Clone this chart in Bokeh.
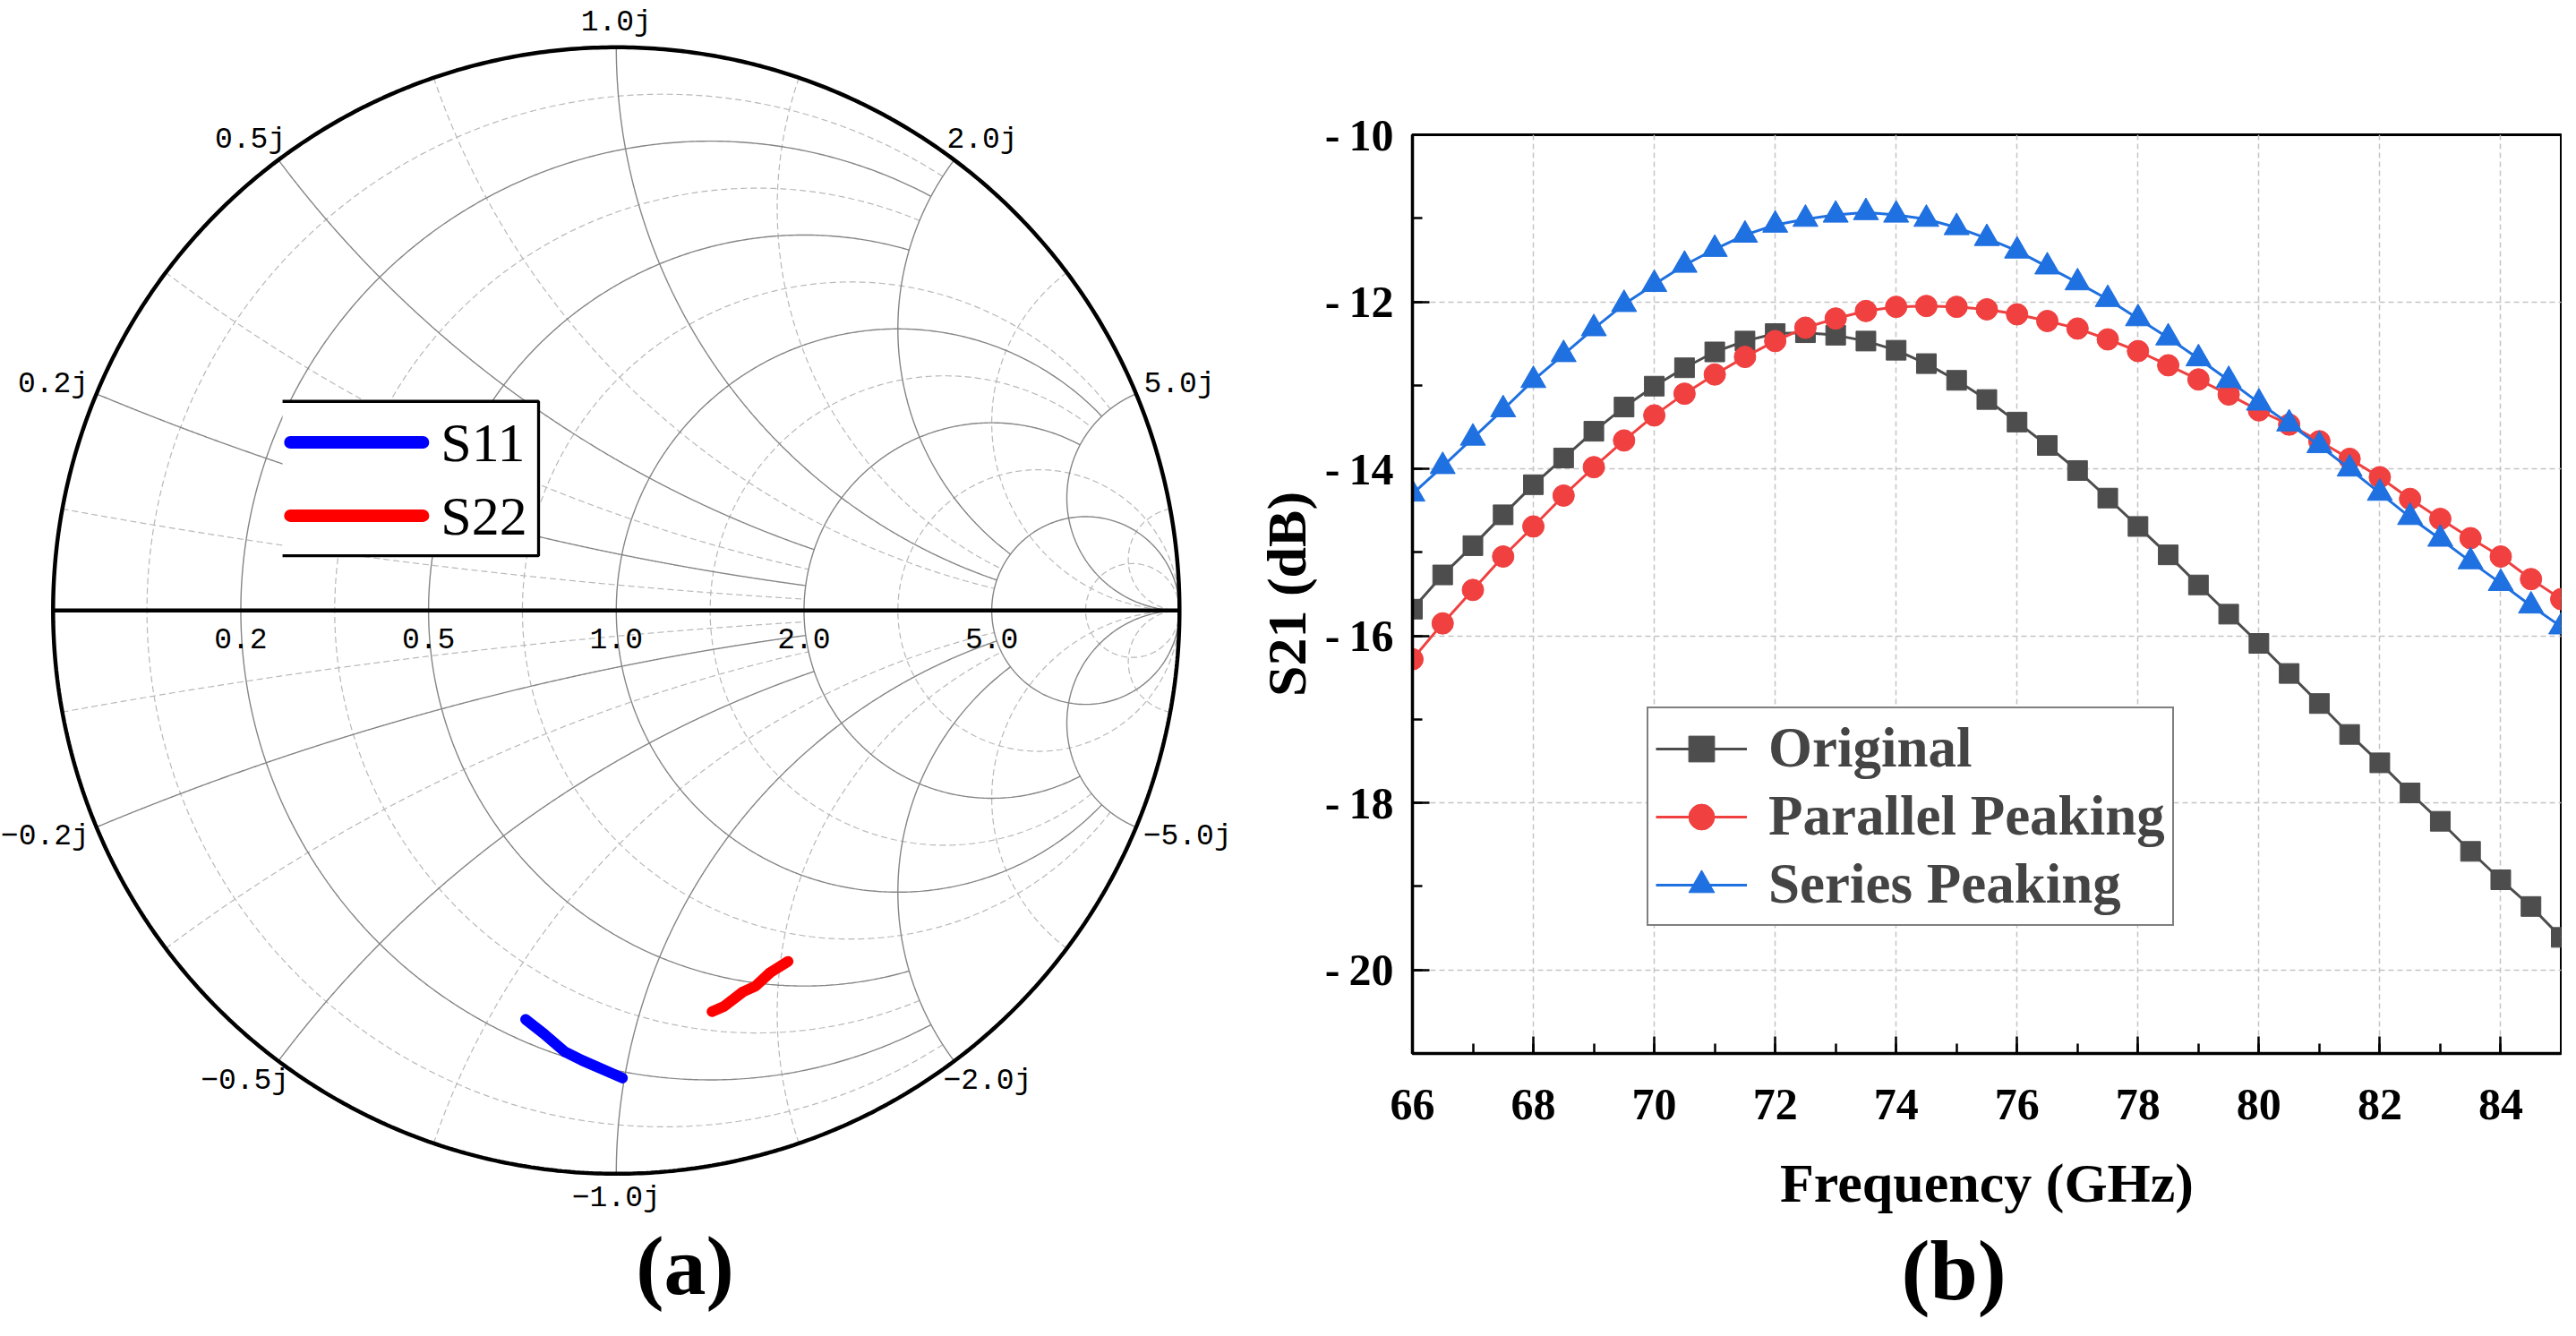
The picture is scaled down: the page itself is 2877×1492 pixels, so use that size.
import numpy as np
from bokeh.plotting import figure
from bokeh.models import Range1d, Legend, LegendItem, SingleIntervalTicker, Title
from bokeh.layouts import row
from bokeh.embed import file_html
from bokeh.resources import INLINE
from bokeh.core.properties import value

# ---------------- (a) Smith chart: reflection coefficients
s11_re = [-0.161, -0.129, -0.092, -0.060, -0.023, 0.011]
s11_im = [-0.726, -0.751, -0.783, -0.799, -0.815, -0.830]
s22_re = [0.170, 0.191, 0.225, 0.247, 0.273, 0.305]
s22_im = [-0.712, -0.703, -0.677, -0.667, -0.643, -0.623]

# grid values and where each grid line stops (None = drawn in full)
major_vals = [0.2, 0.5, 1.0, 2.0, 5.0]
major_stop = [2, 2, 5, 5, None]
minor_vals = [1 / 11, 1 / 3, 5 / 7, 7 / 5, 3, 11]
minor_stop = [2, 2, 5, 5, None, None]
real_labels = ["0.2", "0.5", "1.0", "2.0", "5.0"]
imag_vals = [0.2, 0.5, 1.0, 2.0, 5.0, -0.2, -0.5, -1.0, -2.0, -5.0]
imag_labels = ["0.2j", "0.5j", "1.0j", "2.0j", "5.0j",
               "\u22120.2j", "\u22120.5j", "\u22121.0j", "\u22122.0j", "\u22125.0j"]

# ---------------- (b) S21 vs frequency
freq = [66, 66.5, 67, 67.5, 68, 68.5, 69, 69.5, 70, 70.5, 71, 71.5, 72, 72.5, 73,
        73.5, 74, 74.5, 75, 75.5, 76, 76.5, 77, 77.5, 78, 78.5, 79, 79.5, 80, 80.5,
        81, 81.5, 82, 82.5, 83, 83.5, 84, 84.5, 85]
original = [-15.68, -15.27, -14.92, -14.55, -14.19, -13.87, -13.55, -13.26, -13.01, -12.79,
            -12.60, -12.47, -12.38, -12.37, -12.40, -12.47, -12.58, -12.74, -12.94, -13.17,
            -13.44, -13.72, -14.02, -14.35, -14.69, -15.03, -15.39, -15.74, -16.09, -16.45,
            -16.81, -17.18, -17.52, -17.88, -18.22, -18.58, -18.92, -19.24, -19.61]
parallel = [-16.28, -15.85, -15.45, -15.05, -14.69, -14.32, -13.98, -13.66, -13.36, -13.10,
            -12.87, -12.66, -12.47, -12.31, -12.20, -12.11, -12.06, -12.05, -12.06, -12.09,
            -12.15, -12.23, -12.32, -12.45, -12.59, -12.76, -12.93, -13.11, -13.30, -13.47,
            -13.67, -13.88, -14.10, -14.36, -14.60, -14.83, -15.05, -15.32, -15.56]
series = [-14.30, -13.97, -13.63, -13.29, -12.94, -12.63, -12.32, -12.03, -11.79, -11.56,
          -11.37, -11.20, -11.08, -11.01, -10.96, -10.93, -10.96, -11.01, -11.11, -11.24,
          -11.39, -11.58, -11.77, -11.97, -12.20, -12.43, -12.68, -12.94, -13.21, -13.46,
          -13.72, -14.00, -14.29, -14.58, -14.84, -15.11, -15.37, -15.64, -15.89]
y_ticks = [-10, -12, -14, -16, -18, -20]

SERIF = value("Liberation Serif")
MONO = value("Liberation Mono")
PX = 629.0  # pixels per unit of reflection coefficient


def gamma(z):
    return (z - 1) / (z + 1)


def r_circle(r, stop):
    tmax = np.arctan(stop) if stop else np.pi / 2 - 1e-4
    t = np.linspace(-tmax, tmax, 700)
    g = gamma(r + 1j * np.tan(t))
    return list(g.real), list(g.imag)


def x_arc(x, stop):
    smax = np.arctan(stop) if stop else np.pi / 2 - 1e-4
    s = np.linspace(0, smax, 700)
    g = gamma(np.tan(s) + 1j * x)
    return list(g.real), list(g.imag)


def grid_lines(vals, stops):
    xs, ys = [], []
    for v, st in zip(vals, stops):
        a, b = r_circle(v, st)
        xs.append(a); ys.append(b)
        for sgn in (1, -1):
            a, b = x_arc(sgn * v, st)
            xs.append(a); ys.append(b)
    return xs, ys


# ---------------------------------------------------------------- Smith chart
W1, H = 1392, 1476
cx, cy = 687.8, 681.3  # chart centre inside the figure, px
p1 = figure(width=W1, height=H, x_range=Range1d(-cx / PX, (W1 - cx) / PX),
            y_range=Range1d(-(H - cy) / PX, cy / PX), x_axis_type=None, y_axis_type=None,
            min_border=0, output_backend="svg", toolbar_location=None)
p1.outline_line_color = None

mx, my = grid_lines(minor_vals, minor_stop)
p1.multi_line(mx, my, line_color="#b8b8b8", line_width=1.2, line_dash="7 4")
Mx, My = grid_lines(major_vals, major_stop)
p1.multi_line(Mx, My, line_color="#858585", line_width=1.4)

th = np.linspace(0, 2 * np.pi, 800)
p1.line(np.cos(th), np.sin(th), line_color="black", line_width=4.5)
p1.line([-1, 1], [0, 0], line_color="black", line_width=4.5)

p1.line(s11_re, s11_im, line_color="#0000ff", line_width=12, line_cap="round", line_join="round")
p1.line(s22_re, s22_im, line_color="#ff0000", line_width=12, line_cap="round", line_join="round")

# legend box (no left edge, as in the original)
lg_l, lg_r, lg_t, lg_b = -0.5926, -0.1380, 0.3713, 0.0971
p1.quad(left=[lg_l], right=[lg_r], top=[lg_t], bottom=[lg_b], fill_color="white", line_color=None)
p1.line([lg_l, lg_r, lg_r, lg_l], [lg_t, lg_t, lg_b, lg_b], line_color="black", line_width=3.3)
for yy, col, name in [(0.2986, "#0000ff", "S11"), (0.1684, "#ff0000", "S22")]:
    p1.line([-0.5787, -0.3433], [yy, yy], line_color=col, line_width=14, line_cap="round")
    p1.text(x=[-0.3116], y=[yy], text=[name], text_font=SERIF, text_font_size="62px",
            text_align="left", text_baseline="middle", text_color="black")

# axis labels of the chart
rl_x = [(v - 1) / (v + 1) for v in major_vals]
p1.text(x=rl_x, y=[-0.049] * len(rl_x), text=real_labels, text_font=MONO,
        text_font_size="33px", text_align="center", text_baseline="middle", text_color="black")

char_w, half_h = 19.8 / PX, 15 / PX
lx, ly = [], []
for v, t in zip(imag_vals, imag_labels):
    g = gamma(1j * v)
    c, s = g.real, g.imag
    w = len(t) * char_w
    lx.append(c * 1.02 + c * w / 2)
    ly.append(s * 1.02 + s * half_h)
p1.text(x=lx, y=ly, text=imag_labels, text_font=MONO,
        text_font_size="33px", text_align="center", text_baseline="middle", text_color="black")

p1.text(x=[0.122], y=[-1.163], text=["(a)"], text_font=SERIF, text_font_style="bold",
        text_font_size="94px", text_align="center", text_baseline="middle")

# ---------------------------------------------------------------- S21 plot
p2 = figure(width=1469, height=H, x_range=Range1d(66, 85), y_range=Range1d(-21, -10),
            min_border_left=185, min_border_right=1, min_border_top=150, min_border_bottom=150,
            output_backend="svg", toolbar_location=None)

c_orig, c_par, c_ser = "#4d4d4d", "#f04040", "#1f70e0"
r1 = p2.line(freq, original, line_color=c_orig, line_width=3)
s1 = p2.scatter(freq, original, marker="square", size=22, color=c_orig)
r2 = p2.line(freq, parallel, line_color=c_par, line_width=3)
s2 = p2.scatter(freq, parallel, marker="circle", size=24, color=c_par)
r3 = p2.line(freq, series, line_color=c_ser, line_width=3)
s3 = p2.scatter(freq, series, marker="triangle", size=28, color=c_ser)

for ax in (p2.xaxis[0], p2.yaxis[0]):
    ax.ticker = SingleIntervalTicker(interval=2, num_minor_ticks=2)
    ax.major_tick_in = 19
    ax.major_tick_out = 0
    ax.minor_tick_in = 11
    ax.minor_tick_out = 0
    ax.major_tick_line_width = 2.5
    ax.minor_tick_line_width = 2.5
    ax.major_tick_line_color = "black"
    ax.minor_tick_line_color = "black"
    ax.axis_line_width = 3.5
    ax.axis_line_color = "black"
    ax.major_label_text_font = "Liberation Serif"
    ax.major_label_text_font_style = "bold"
    ax.major_label_text_font_size = "50px"
    ax.major_label_text_color = "black"
    ax.axis_label_text_font = "Liberation Serif"
    ax.axis_label_text_font_style = "bold"
    ax.axis_label_text_font_size = "62px"
    ax.axis_label_text_color = "black"
p2.xaxis.major_label_standoff = 40
p2.yaxis.major_label_standoff = 21
p2.yaxis.major_label_overrides = {v: "-\u2009%d" % abs(v) for v in y_ticks}
p2.xaxis.axis_label = "Frequency (GHz)"
p2.xaxis.axis_label_standoff = 34
p2.yaxis.axis_label = "S21 (dB)"
p2.yaxis.axis_label_standoff = 6

p2.grid.grid_line_color = "#c4c4c4"
p2.grid.grid_line_dash = "6 4"
p2.grid.grid_line_width = 1.5
p2.outline_line_color = "black"
p2.outline_line_width = 3
p2.outline_line_alpha = 1

legend = Legend(items=[LegendItem(label="Original", renderers=[r1, s1]),
                       LegendItem(label="Parallel Peaking", renderers=[r2, s2]),
                       LegendItem(label="Series Peaking", renderers=[r3, s3])],
                location=(262, 142), margin=0, padding=8, spacing=3,
                glyph_width=102, glyph_height=72, label_height=72, label_standoff=24,
                label_text_font="Liberation Serif", label_text_font_style="bold",
                label_text_font_size="63px", border_line_color="black",
                border_line_width=2.5, background_fill_alpha=1)
p2.add_layout(legend)

p2.add_layout(Title(text="(b)", align="left", offset=546, standoff=10,
                    text_font="Liberation Serif", text_font_style="bold",
                    text_font_size="96px", text_color="black"), "below")

# keep each plot's frame independent inside the row
for p in (p1, p2):
    if "frame_align" in p.properties():
        p.frame_align = False

layout = row(p1, p2)
open("out.html", "w").write(file_html(layout, INLINE))
